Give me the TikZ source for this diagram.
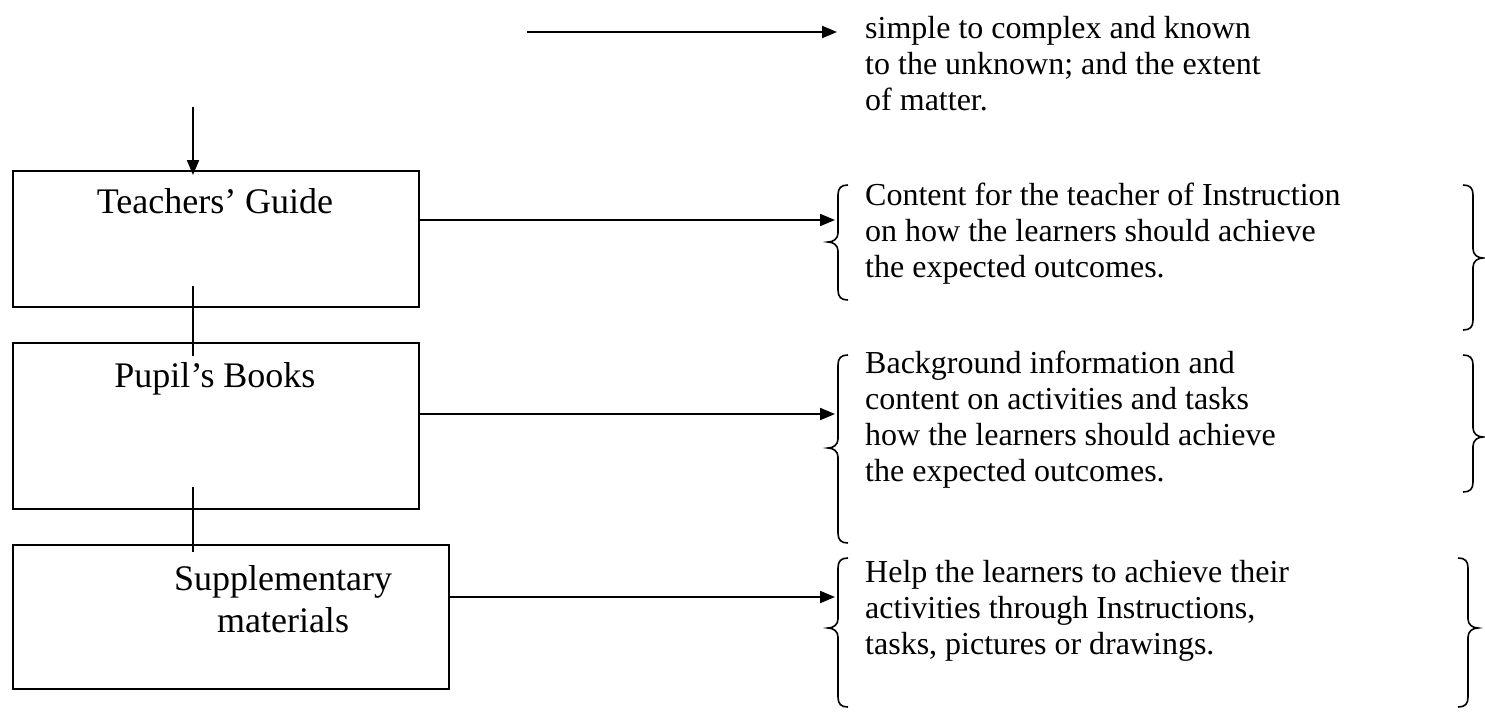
\documentclass[tikz,border=0pt]{standalone}
\usepackage{fontspec}
\setmainfont{Liberation Serif}
\usetikzlibrary{arrows.meta}
\newcommand\LBr[4]{% spine x, top, mid, bottom (point to the left)
  \draw[bracestyle] (#1+10,#2) .. controls (#1+3,#2) and (#1,#2+3) .. (#1,#2+10)
    -- (#1,#3-9) .. controls (#1,#3-3) and (#1-5,#3) .. (#1-10,#3)
    .. controls (#1-5,#3) and (#1,#3+3) .. (#1,#3+9)
    -- (#1,#4-10) .. controls (#1,#4-3) and (#1+3,#4) .. (#1+10,#4);}
\newcommand\RBr[4]{% spine x, top, mid, bottom (point to the right)
  \draw[bracestyle] (#1-10,#2) .. controls (#1-3,#2) and (#1,#2+3) .. (#1,#2+10)
    -- (#1,#3-9) .. controls (#1,#3-3) and (#1+5,#3) .. (#1+10,#3)
    .. controls (#1+5,#3) and (#1,#3+3) .. (#1,#3+9)
    -- (#1,#4-10) .. controls (#1,#4-3) and (#1-3,#4) .. (#1-10,#4);}
\newcommand\BodyLines[1]{\begin{tabular}[t]{@{}l@{}}#1\end{tabular}}
\newcommand\LabelLines[1]{\begin{tabular}[t]{@{}c@{}}#1\end{tabular}}
\begin{document}
\begin{tikzpicture}[x=1pt,y=-1pt,
  box/.style={draw, rectangle, line width=2pt, inner sep=0pt, anchor=north west},
  boxlabel/.style={inner sep=0pt, anchor=base, font=\fontsize{36}{42}\selectfont},
  bodytext/.style={inner sep=0pt, anchor=base west, font=\fontsize{32}{36}\selectfont},
  arr/.style={line width=2pt, -{Triangle[length=15pt,width=12pt]}},
  link/.style={line width=2pt},
  bracestyle/.style={line width=1.6pt}]
\useasboundingbox (0,0) rectangle (1485,715);

% boxes
\node[box, minimum width=406pt, minimum height=136pt] (tg) at (12,170) {};
\node[box, minimum width=406pt, minimum height=166pt] (pb) at (12,342) {};
\node[box, minimum width=436pt, minimum height=144pt] (sm) at (12,544) {};
\node[boxlabel] (tgl) at (215,213) {Teachers’ Guide};
\node[boxlabel] (pbl) at (215,387) {Pupil’s Books};
\node[boxlabel] (sml) at (283,590) {\LabelLines{Supplementary\\materials}};

% top arrows
\coordinate (ta1) at (527,32);
\coordinate (ta2) at (837,32);
\draw[arr] (ta1) -- (ta2);
\coordinate (da1) at (193,107);
\coordinate (da2) at (193,175);
\draw[arr] (da1) -- (da2);

% links between boxes
\coordinate (l1a) at (193,286);
\coordinate (l1b) at (193,356);
\draw[link] (l1a) -- (l1b);
\coordinate (l2a) at (193,487);
\coordinate (l2b) at (193,552);
\draw[link] (l2a) -- (l2b);

% arrows to braces
\coordinate (b1) at (835,220);
\coordinate (b2) at (835,414);
\coordinate (b3) at (835,597);
\draw[arr] (b1 -| tg.east) -- (b1);
\draw[arr] (b2 -| pb.east) -- (b2);
\draw[arr] (b3 -| sm.east) -- (b3);

% braces
\LBr{838}{185}{242}{300}
\LBr{838}{355}{448}{543}
\LBr{838}{558}{628}{707}
\RBr{1473}{185}{258}{330}
\RBr{1473}{355}{437}{492}
\RBr{1468}{558}{628}{707}

% texts
\node[bodytext] (t0) at (865,38) {\BodyLines{simple to complex and known\\to the unknown; and the extent\\of matter.}};
\node[bodytext] (t1) at (865,205) {\BodyLines{Content for the teacher of Instruction\\on how the learners should achieve\\the expected outcomes.}};
\node[bodytext] (t2) at (865,373) {\BodyLines{Background information and\\content on activities and tasks\\how the learners should achieve\\the expected outcomes.}};
\node[bodytext] (t3) at (865,582) {\BodyLines{Help the learners to achieve their\\activities through Instructions,\\tasks, pictures or drawings.}};
\end{tikzpicture}
\end{document}
